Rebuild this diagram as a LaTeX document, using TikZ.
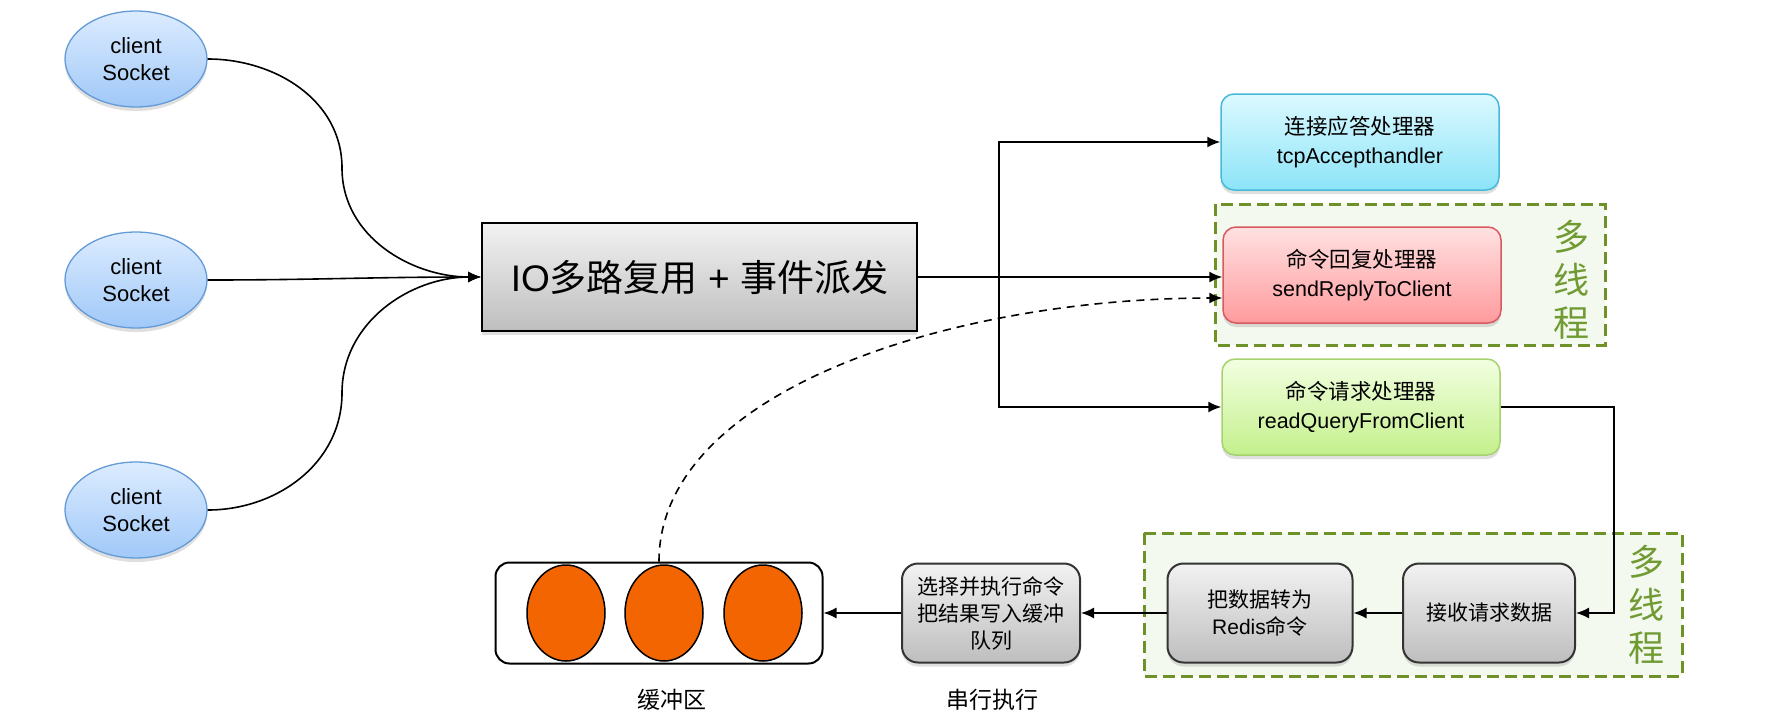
\documentclass[tikz,border=0pt]{standalone}
\usepackage{fontspec}
\setmainfont{Liberation Sans}
\newfontfamily\cjk{Noto Sans CJK SC}
\usetikzlibrary{shapes.geometric,arrows.meta,shadows}
\definecolor{socktop}{RGB}{220,236,255}
\definecolor{sockbot}{RGB}{160,200,248}
\definecolor{sockline}{RGB}{100,155,215}
\definecolor{maintop}{RGB}{242,242,242}
\definecolor{mainbot}{RGB}{190,190,190}
\definecolor{tcptop}{RGB}{220,249,255}
\definecolor{tcpbot}{RGB}{140,228,248}
\definecolor{tcpline}{RGB}{70,185,215}
\definecolor{redtop}{RGB}{255,225,225}
\definecolor{redbot}{RGB}{255,155,158}
\definecolor{redline}{RGB}{215,90,95}
\definecolor{grntop}{RGB}{242,255,225}
\definecolor{grnbot}{RGB}{196,240,140}
\definecolor{grnline}{RGB}{165,210,110}
\definecolor{grpline}{RGB}{110,145,40}
\definecolor{grpfill}{RGB}{244,249,239}
\definecolor{mtgreen}{RGB}{112,155,50}
\definecolor{orangec}{RGB}{243,101,0}
\begin{document}
\begin{tikzpicture}[x=1pt,y=-1pt,
  conn/.style={line width=1.6pt},
  arr/.style={line width=1.6pt,-{Latex[length=13pt,width=11pt]}},
  dasharr/.style={line width=1.6pt,dash pattern=on 8pt off 6pt,-{Latex[length=13pt,width=11pt]}},
  shad/.style={drop shadow={shadow xshift=0pt,shadow yshift=-4pt,opacity=0.25}},
  sock/.style={ellipse,draw=sockline,line width=1.3pt,top color=socktop,bottom color=sockbot,
    minimum width=142pt,minimum height=96pt,inner sep=0pt,align=center,
    font=\fontsize{22}{27}\selectfont,shad},
  mainbox/.style={rectangle,draw=black,line width=2pt,top color=maintop,bottom color=mainbot,
    minimum width=435pt,minimum height=108pt,inner sep=0pt,font=\fontsize{37}{42}\selectfont,shad},
  handler/.style={rectangle,rounded corners=13pt,line width=1.5pt,minimum width=278pt,
    minimum height=96pt,inner sep=0pt,align=center,font=\fontsize{21.5}{28.5}\selectfont,shad},
  graybox/.style={rectangle,rounded corners=16pt,draw=black!80,line width=2pt,top color=maintop,
    bottom color=mainbot,minimum height=99pt,inner sep=0pt,align=center,
    font=\fontsize{21}{27}\selectfont,shad},
  group/.style={draw=grpline,dash pattern=on 12pt off 6pt,line width=3pt,fill=grpfill},
  mt/.style={text=mtgreen,font=\cjk\fontsize{36}{43}\selectfont,align=center,inner sep=0pt},
  lbl/.style={font=\cjk\fontsize{23}{27}\selectfont,inner sep=0pt}
]
\useasboundingbox (0,0) rectangle (1790,724);

% groups
\draw[group] (1215,204) rectangle (1605,345);
\draw[group] (1144,533) rectangle (1682,676);
\node[mt] (mt1) at (1571,280) {多\\线\\程};
\node[mt] (mt2) at (1646,605) {多\\线\\程};

% clients
\node[sock] (c1) at (136,59) {client\\Socket};
\node[sock] (c2) at (136,280) {client\\Socket};
\node[sock] (c3) at (136,510) {client\\Socket};

% main
\node[mainbox] (main) at (699.5,277) {IO{\cjk 多路复用} + {\cjk 事件派发}};

% handlers
\node[handler,draw=tcpline,top color=tcptop,bottom color=tcpbot] (tcp) at (1360,142)
  {{\cjk 连接应答处理器}\\tcpAccepthandler};
\node[handler,draw=redline,top color=redtop,bottom color=redbot] (rep) at (1362,275)
  {{\cjk 命令回复处理器}\\sendReplyToClient};
\node[handler,draw=grnline,top color=grntop,bottom color=grnbot] (rq) at (1361,407)
  {{\cjk 命令请求处理器}\\readQueryFromClient};

% bottom row
\node[graybox,minimum width=172pt] (recv) at (1489,613) {{\cjk 接收请求数据}};
\node[graybox,minimum width=185pt] (redis) at (1260,613) {{\cjk 把数据转为}\\Redis{\cjk 命令}};
\node[graybox,minimum width=178pt] (sel) at (991,613) {{\cjk 选择并执行命令}\\{\cjk 把结果写入缓冲}\\{\cjk 队列}};
\node[rectangle,rounded corners=14pt,draw=black,line width=2pt,fill=white,
  minimum width=327pt,minimum height=101pt] (buf) at (659,613) {};
\foreach \i/\x in {1/566,2/664,3/763}
  \node[ellipse,draw=black,line width=1.5pt,fill=orangec,minimum width=78pt,minimum height=96pt] (o\i) at (\x,613) {};
\node[lbl] (bl) at (672,700) {缓冲区};
\node[lbl] (sl) at (992,700) {串行执行};

% client connectors
\draw[arr] (c1.east) to[out=0,in=90] (342,168) to[out=-90,in=180] (main.west);
\draw[arr] (c2.east) to[out=0,in=180] (main.west);
\draw[arr] (c3.east) to[out=0,in=-90] (342,393) to[out=90,in=180] (main.west);

% dispatch
\coordinate (tr) at (999,277);
\draw[arr] (main.east) -- (main.east -| rep.west);
\draw[arr] (tr) |- (tcp.west);
\draw[arr] (tr) |- (rq.west);

% loop to bottom
\coordinate (lp) at (1614,407);
\draw[arr] (rq.east) -- (lp) |- (recv.east);
\draw[arr] (recv.west) -- (redis.east);
\draw[arr] (redis.west) -- (sel.east);
\draw[arr] (sel.west) -- (buf.east);

% dashed return
\draw[dasharr] (buf.north) .. controls +(0,-172) and +(-267,0) .. ([yshift=-23pt]rep.west);
\end{tikzpicture}
\end{document}
